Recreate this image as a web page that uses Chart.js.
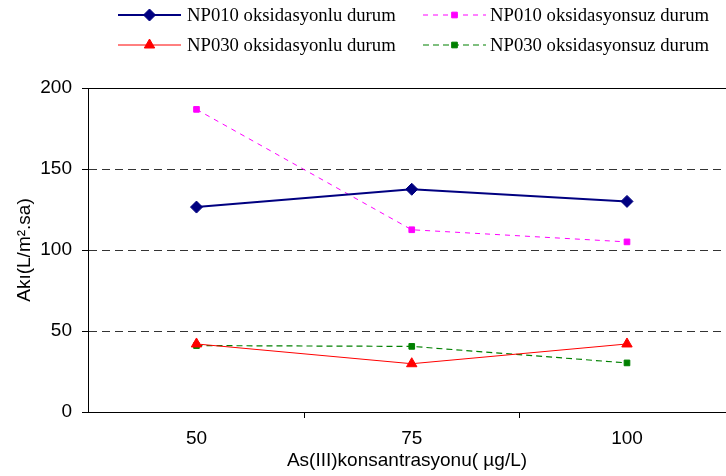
<!DOCTYPE html>
<html>
<head>
<meta charset="utf-8">
<script src="https://cdn.jsdelivr.net/npm/chart.js@4/dist/chart.umd.min.js"></script>
<style>
  html, body { margin: 0; padding: 0; background: #fff; }
  #wrap { width: 726px; height: 476px; }
</style>
</head>
<body>
<div id="wrap"><canvas id="chart" width="726" height="476"></canvas></div>
<script>
// Data
const concentrations = [50, 75, 100];
const np010Oks = [126.5, 137.5, 130];
const np010Oksuz = [186.8, 112.5, 105];
const np030Oks = [42, 29.8, 42];
const np030Oksuz = [41, 40.5, 30.3];
const yTicks = [0, 50, 100, 150, 200];
const xTickMarks = [50, 62.5, 75, 87.5, 100];

const toPoints = vals => vals.map((v, i) => ({ x: concentrations[i], y: v }));

const datasets = [
  { label: 'NP010 oksidasyonlu durum', data: toPoints(np010Oks), borderColor: '#000080', backgroundColor: '#000080',
    borderWidth: 2, pointStyle: 'rectRot', pointRadius: 6, borderDash: [] },
  { label: 'NP010 oksidasyonsuz durum', data: toPoints(np010Oksuz), borderColor: '#FF00FF', backgroundColor: '#FF00FF',
    borderWidth: 1, pointStyle: 'rect', pointRadius: 4, borderDash: [5, 5] },
  { label: 'NP030 oksidasyonlu durum', data: toPoints(np030Oks), borderColor: '#FF0000', backgroundColor: '#FF0000',
    borderWidth: 1, pointStyle: 'triangle', pointRadius: 6, borderDash: [] },
  { label: 'NP030 oksidasyonsuz durum', data: toPoints(np030Oksuz), borderColor: '#008000', backgroundColor: '#008000',
    borderWidth: 1.2, pointStyle: 'rect', pointRadius: 4, borderDash: [6, 4] }
];
datasets.forEach(d => { d.pointBorderWidth = 1; d.tension = 0; d.fill = false; });

// Legend in two columns, drawn like the original (line + marker + text)
const legendPlugin = {
  id: 'customLegend',
  afterDraw(chart) {
    const ctx = chart.ctx;
    const cols = [{ x1: 118, x2: 181, tx: 187 }, { x1: 423, x2: 486, tx: 490 }];
    const rows = [15, 45];
    chart.data.datasets.forEach((ds, i) => {
      const c = cols[i % 2];
      const y = rows[Math.floor(i / 2)];
      ctx.save();
      ctx.strokeStyle = ds.borderColor;
      ctx.lineWidth = ds.borderWidth;
      ctx.setLineDash(ds.borderDash);
      ctx.beginPath();
      ctx.moveTo(c.x1, y);
      ctx.lineTo(c.x2, y);
      ctx.stroke();
      ctx.setLineDash([]);
      ctx.fillStyle = ds.backgroundColor;
      ctx.lineWidth = 1;
      Chart.helpers.drawPoint(ctx, { pointStyle: ds.pointStyle, radius: ds.pointRadius, rotation: 0, borderWidth: 1 },
        (c.x1 + c.x2) / 2, y);
      ctx.fillStyle = '#000';
      ctx.font = '18.7px "Liberation Serif", "Times New Roman", serif';
      ctx.textBaseline = 'middle';
      ctx.textAlign = 'left';
      ctx.fillText(ds.label, c.tx, y + 1);
      ctx.restore();
    });
  }
};

// Solid frame line along the top of the plot area
const topLinePlugin = {
  id: 'topLine',
  afterDatasetsDraw(chart) {
    const { ctx, chartArea } = chart;
    ctx.save();
    ctx.strokeStyle = '#000';
    ctx.lineWidth = 1;
    ctx.beginPath();
    ctx.moveTo(chartArea.left, chartArea.top + 0.5);
    ctx.lineTo(chartArea.right, chartArea.top + 0.5);
    ctx.stroke();
    ctx.restore();
  }
};

const axisFont = { family: '"Liberation Sans", Arial, sans-serif', size: 19 };

new Chart(document.getElementById('chart').getContext('2d'), {
  type: 'line',
  data: { datasets },
  options: {
    responsive: false,
    animation: false,
    layout: { autoPadding: false, padding: { top: 88, left: 0, right: 0, bottom: 0 } },
    plugins: { legend: { display: false }, tooltip: { enabled: false } },
    scales: {
      x: {
        type: 'linear',
        min: 37.4,
        max: 111.5,
        afterBuildTicks: scale => { scale.ticks = xTickMarks.map(v => ({ value: v })); },
        afterFit: scale => { scale.height = 64; scale.paddingLeft = 0; scale.paddingRight = 0; },
        ticks: {
          autoSkip: false,
          maxRotation: 0,
          padding: 9,
          color: '#000',
          font: axisFont,
          callback: v => (v % 25 === 0 ? String(v) : '')
        },
        grid: {
          drawOnChartArea: false,
          drawTicks: true,
          tickLength: 6,
          tickColor: c => (c.tick && c.tick.value % 25 === 0 ? 'rgba(0,0,0,0)' : '#000')
        },
        border: { display: true, color: '#000', width: 1 },
        title: {
          display: true,
          text: 'As(III)konsantrasyonu( µg/L)',
          color: '#000',
          font: axisFont,
          padding: { top: 0, bottom: 4 }
        }
      },
      y: {
        min: 0,
        max: 200,
        afterBuildTicks: scale => { scale.ticks = yTicks.map(v => ({ value: v })); },
        afterFit: scale => { scale.width = 88; scale.paddingTop = 0; scale.paddingBottom = 0; },
        ticks: { padding: 10, color: '#000', font: axisFont },
        grid: {
          color: '#333',
          lineWidth: 1,
          drawTicks: true,
          tickLength: 6,
          tickColor: '#000'
        },
        border: { display: true, color: '#000', width: 1, dash: [8, 5] },
        title: {
          display: true,
          text: 'Akı(L/m².sa)',
          color: '#000',
          font: axisFont,
          padding: { top: 13, bottom: 0 }
        }
      }
    }
  },
  plugins: [legendPlugin, topLinePlugin]
});
</script>
</body>
</html>
